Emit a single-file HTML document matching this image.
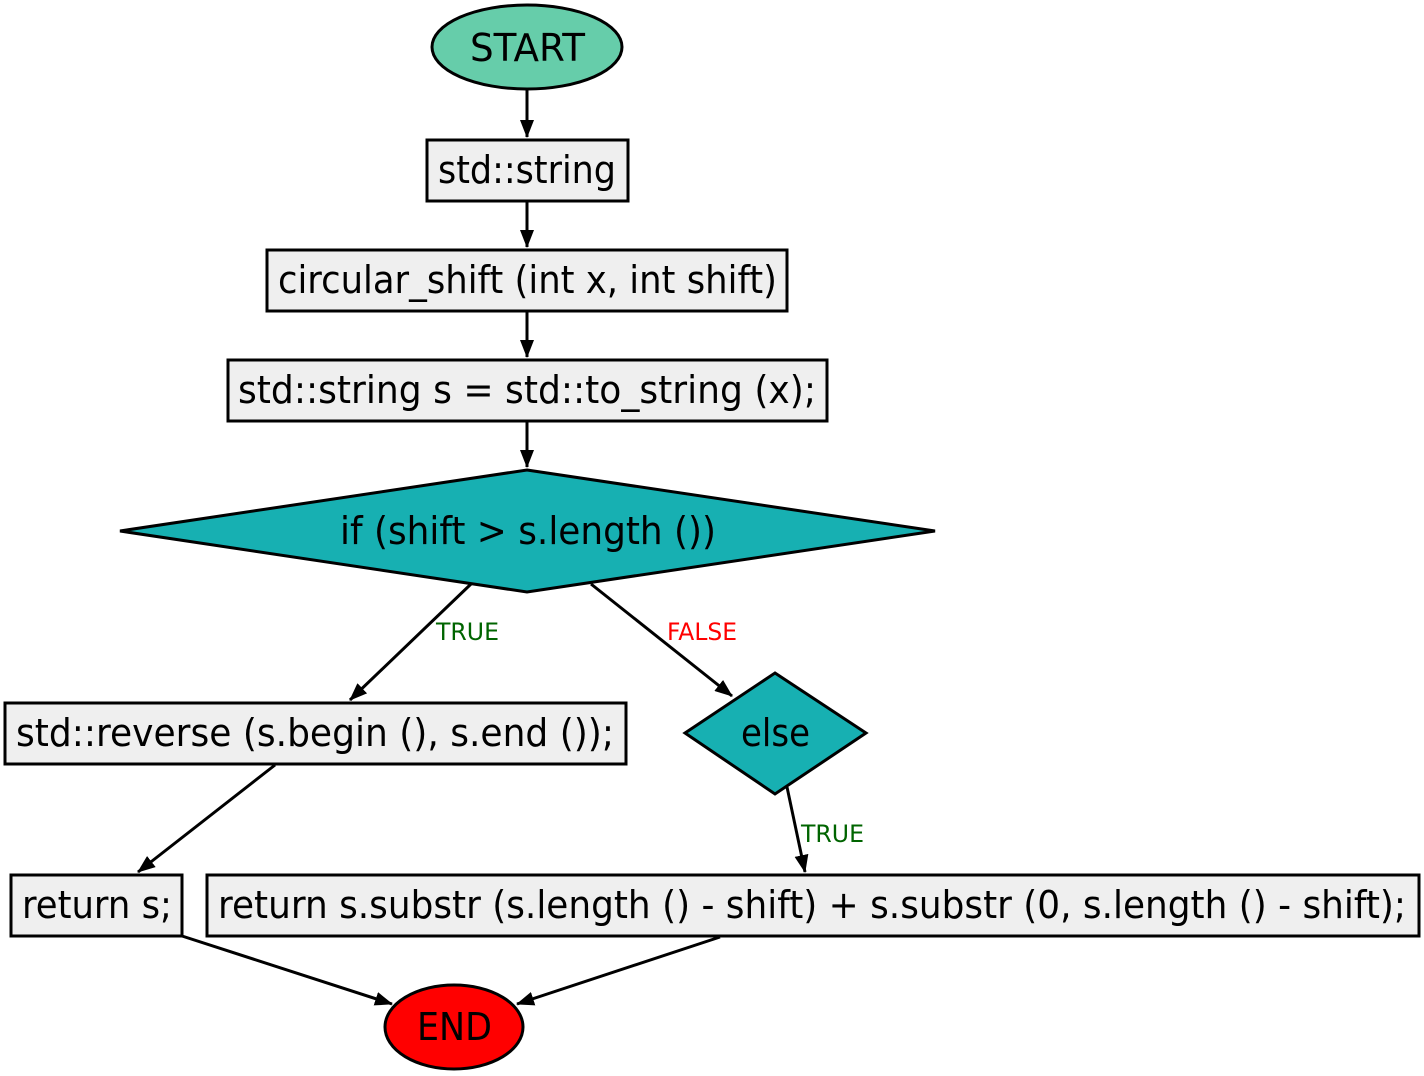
<!DOCTYPE html>
<html><head><meta charset="utf-8"><style>html,body{margin:0;padding:0;background:#fff}svg{display:block}text{font-family:"DejaVu Sans","Liberation Sans",sans-serif}</style></head>
<body>
<svg width="1424" height="1076" viewBox="0 0 1424 1076" xmlns="http://www.w3.org/2000/svg">
<defs>
<marker id="a" markerWidth="18" markerHeight="14" refX="17" refY="7" orient="auto" markerUnits="userSpaceOnUse"><path d="M0,0 L18,7 L0,14 Z" fill="#000"/></marker></defs>
<g stroke="#000" stroke-width="3" fill="none">
<line x1="527" y1="89" x2="527" y2="137" marker-end="url(#a)"/>
<line x1="527" y1="201" x2="527" y2="247" marker-end="url(#a)"/>
<line x1="527" y1="311" x2="527" y2="357" marker-end="url(#a)"/>
<line x1="527" y1="421" x2="527" y2="467" marker-end="url(#a)"/>
<line x1="471" y1="584" x2="350" y2="700" marker-end="url(#a)"/>
<line x1="591" y1="584" x2="732" y2="696" marker-end="url(#a)"/>
<line x1="275" y1="765" x2="138" y2="872" marker-end="url(#a)"/>
<line x1="787" y1="787" x2="805" y2="872" marker-end="url(#a)"/>
<line x1="182" y1="936" x2="392" y2="1004" marker-end="url(#a)"/>
<line x1="720" y1="937" x2="517" y2="1004" marker-end="url(#a)"/>
</g>
<g stroke="#000" stroke-width="3">
<ellipse cx="527" cy="47" rx="95" ry="42" fill="#66cdaa"/>
<rect x="427" y="140" width="201" height="61" fill="#efefef"/>
<rect x="267" y="250" width="520" height="61" fill="#efefef"/>
<rect x="228" y="360" width="599" height="61" fill="#efefef"/>
<polygon points="527,470 935,531 527,592 120,531" fill="#17b0b2"/>
<polygon points="775,673 866,733 775,794 685,733" fill="#17b0b2"/>
<rect x="5" y="703" width="621" height="61" fill="#efefef"/>
<rect x="11" y="875" width="171" height="61" fill="#efefef"/>
<rect x="207" y="875" width="1212" height="61" fill="#efefef"/>
<ellipse cx="454" cy="1027" rx="69" ry="42" fill="#ff0000"/>
</g>
<g font-size="38" fill="#000">
<text x="470" y="61" textLength="115" lengthAdjust="spacingAndGlyphs">START</text>
<text x="438" y="183" textLength="178" lengthAdjust="spacingAndGlyphs">std::string</text>
<text x="278" y="293" textLength="499" lengthAdjust="spacingAndGlyphs">circular_shift (int x, int shift)</text>
<text x="238" y="403" textLength="578" lengthAdjust="spacingAndGlyphs">std::string s = std::to_string (x);</text>
<text x="340" y="544" textLength="376" lengthAdjust="spacingAndGlyphs">if (shift &gt; s.length ())</text>
<text x="741" y="746" textLength="69" lengthAdjust="spacingAndGlyphs">else</text>
<text x="16" y="746" textLength="598" lengthAdjust="spacingAndGlyphs">std::reverse (s.begin (), s.end ());</text>
<text x="22" y="918" textLength="150" lengthAdjust="spacingAndGlyphs">return s;</text>
<text x="218" y="918" textLength="1188" lengthAdjust="spacingAndGlyphs">return s.substr (s.length () - shift) + s.substr (0, s.length () - shift);</text>
<text x="417" y="1040" textLength="75" lengthAdjust="spacingAndGlyphs">END</text>
</g>
<g font-size="24">
<text x="436" y="640" fill="#006400" textLength="63" lengthAdjust="spacingAndGlyphs">TRUE</text>
<text x="667" y="640" fill="#ff0000" textLength="70" lengthAdjust="spacingAndGlyphs">FALSE</text>
<text x="801" y="842" fill="#006400" textLength="63" lengthAdjust="spacingAndGlyphs">TRUE</text>
</g>
</svg>
</body></html>
